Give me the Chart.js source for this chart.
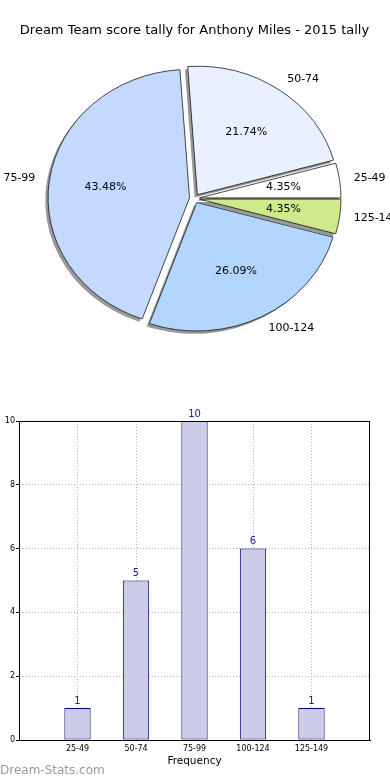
<!DOCTYPE html>
<html>
<head>
<meta charset="utf-8">
<script src="https://cdn.jsdelivr.net/npm/chart.js@4.4.1/dist/chart.umd.min.js"></script>
<style>
html, body { margin: 0; padding: 0; background: #fff; }
#wrap { position: relative; width: 390px; height: 780px; overflow: hidden; }
#pieBox { position: absolute; left: 0; top: 0; width: 390px; height: 390px; }
#barBox { position: absolute; left: 0; top: 390px; width: 390px; height: 390px; }
#mark { position: absolute; left: 0; top: 763px; font: 12px 'DejaVu Sans', sans-serif; color: #999; }
</style>
</head>
<body>
<div id="wrap">
  <div id="pieBox"><canvas id="pie"></canvas></div>
  <div id="barBox"><canvas id="bar"></canvas></div>
  <div id="mark">Dream-Stats.com</div>
</div>
<script>
const chartTitle = 'Dream Team score tally for Anthony Miles - 2015 tally';
const categories = ['25-49', '50-74', '75-99', '100-124', '125-149'];
const counts = [1, 5, 10, 6, 1];
const sliceColors = ['#ffffff', '#e9f0ff', '#c4d9ff', '#b3d6ff', '#cfea8a'];
const xTitle = 'Frequency';

Chart.defaults.font.family = "'DejaVu Sans', sans-serif";
Chart.defaults.color = '#000';

const total = counts.reduce((a, b) => a + b, 0);

// matplotlib goes counter-clockwise from 3 o'clock, chart.js clockwise -> reverse
const pieLabels = categories.slice().reverse();
const pieValues = counts.slice().reverse();
const pieColors = sliceColors.slice().reverse();

const EXPLODE = 5;
const RADIUS = 141.5;
const SQUASH = 128.5 / 141.5;

const pieLook = {
  id: 'pieLook',
  afterDatasetUpdate(chart, args) {
    args.meta.data.forEach(arc => {
      const mid = (arc.startAngle + arc.endAngle) / 2;
      arc.x += Math.cos(mid) * EXPLODE;
      arc.y += Math.sin(mid) * EXPLODE;
    });
  },
  beforeDatasetsDraw(chart) {
    const ctx = chart.ctx;
    const a = chart.chartArea;
    const cy = (a.top + a.bottom) / 2;
    // shadows first
    ctx.save();
    ctx.translate(-2.8, 2.8);
    ctx.translate(0, cy); ctx.scale(1, SQUASH); ctx.translate(0, -cy);
    ctx.fillStyle = 'rgba(50,50,50,0.5)';
    chart.getDatasetMeta(0).data.forEach(arc => {
      ctx.beginPath();
      ctx.moveTo(arc.x, arc.y);
      ctx.arc(arc.x, arc.y, arc.outerRadius, arc.startAngle, arc.endAngle);
      ctx.closePath();
      ctx.fill();
    });
    ctx.restore();
    ctx.save();
    ctx.translate(0, cy); ctx.scale(1, SQUASH); ctx.translate(0, -cy);
  },
  afterDatasetsDraw(chart) {
    const ctx = chart.ctx;
    ctx.restore();
    const a = chart.chartArea;
    const cy = (a.top + a.bottom) / 2;
    ctx.save();
    ctx.fillStyle = '#000';
    ctx.font = "11px 'DejaVu Sans'";
    ctx.textBaseline = 'middle';
    chart.getDatasetMeta(0).data.forEach((arc, i) => {
      const mid = (arc.startAngle + arc.endAngle) / 2;
      const r = arc.outerRadius;
      const px = arc.x + Math.cos(mid) * r * 0.6;
      const py = cy + (arc.y + Math.sin(mid) * r * 0.6 - cy) * SQUASH;
      ctx.textAlign = 'center';
      ctx.fillText((pieValues[i] / total * 100).toFixed(2) + '%', px, py);
      const lx = arc.x + Math.cos(mid) * r * 1.1;
      const ly = cy + (arc.y + Math.sin(mid) * r * 1.1 - cy) * SQUASH;
      ctx.textAlign = Math.cos(mid) > 0 ? 'left' : 'right';
      ctx.fillText(pieLabels[i], lx, ly);
    });
    ctx.restore();
  }
};

new Chart(document.getElementById('pie'), {
  type: 'pie',
  data: {
    labels: pieLabels,
    datasets: [{
      data: pieValues,
      backgroundColor: pieColors,
      borderColor: '#111',
      borderWidth: 0.8,
      radius: RADIUS,
      clip: false
    }]
  },
  options: {
    responsive: true,
    maintainAspectRatio: false,
    animation: false,
    events: [],
    rotation: 90,
    layout: { padding: { top: 0, left: 0, right: 1, bottom: 41.6 } },
    plugins: {
      legend: { display: false },
      tooltip: { enabled: false },
      title: {
        display: true,
        text: chartTitle,
        color: '#000',
        font: { size: 13, weight: 'normal' },
        padding: { top: 23, bottom: 10 }
      }
    }
  },
  plugins: [pieLook]
});

const barExtras = {
  id: 'barExtras',
  afterDraw(chart) {
    const ctx = chart.ctx;
    const a = chart.chartArea;
    ctx.save();
    ctx.strokeStyle = '#000';
    ctx.lineWidth = 1;
    ctx.strokeRect(a.left + 0.5, a.top + 0.5, a.right - a.left - 1, a.bottom - a.top);
    ctx.fillStyle = '#1a1a8c';
    ctx.font = "10px 'DejaVu Sans'";
    ctx.textAlign = 'center';
    ctx.textBaseline = 'bottom';
    chart.getDatasetMeta(0).data.forEach((bar, i) => {
      ctx.fillText(String(counts[i]), bar.x, bar.y - 2);
    });
    ctx.restore();
  }
};

const hideEdge = (lo, hi, col) => c => (c.tick && (c.tick.value === lo || c.tick.value === hi)) ? 'rgba(0,0,0,0)' : col;

new Chart(document.getElementById('bar'), {
  type: 'bar',
  data: {
    datasets: [{
      data: counts.map((c, i) => ({ x: i + 1, y: c })),
      backgroundColor: '#ccccE6',
      borderColor: '#00007a',
      borderWidth: 1,
      borderSkipped: false,
      categoryPercentage: 1,
      barPercentage: 0.45
    }]
  },
  options: {
    responsive: true,
    maintainAspectRatio: false,
    animation: false,
    events: [],
    layout: { padding: { top: 31, right: 20, left: 0, bottom: 0 } },
    plugins: { legend: { display: false }, tooltip: { enabled: false } },
    scales: {
      x: {
        type: 'linear',
        min: 0, max: 6,
        offset: false,
        z: 1,
        afterFit(s) { s.height = 40; },
        ticks: {
          stepSize: 1,
          padding: 1,
          maxRotation: 0,
          autoSkip: false,
          font: { size: 8 },
          color: '#000',
          callback: v => categories[v - 1] || ''
        },
        grid: {
          offset: false,
          color: hideEdge(0, 6, '#b4b4b4'),
          tickColor: 'rgba(0,0,0,0)',
          tickLength: 3,
          tickBorderDash: []
        },
        border: { color: '#000', width: 1, dash: [1, 2] },
        title: {
          display: true,
          text: xTitle,
          color: '#000',
          font: { size: 10.5 },
          padding: { top: 0, bottom: 12 }
        }
      },
      y: {
        min: 0, max: 10,
        z: 1,
        afterFit(s) { s.width = 19; },
        ticks: { stepSize: 2, padding: 1, font: { size: 8 }, color: '#000' },
        grid: {
          color: hideEdge(0, 10, '#b4b4b4'),
          tickColor: '#000',
          tickLength: 3,
          tickBorderDash: []
        },
        border: { color: '#000', width: 1, dash: [1, 2] }
      }
    }
  },
  plugins: [barExtras]
});
</script>
</body>
</html>
